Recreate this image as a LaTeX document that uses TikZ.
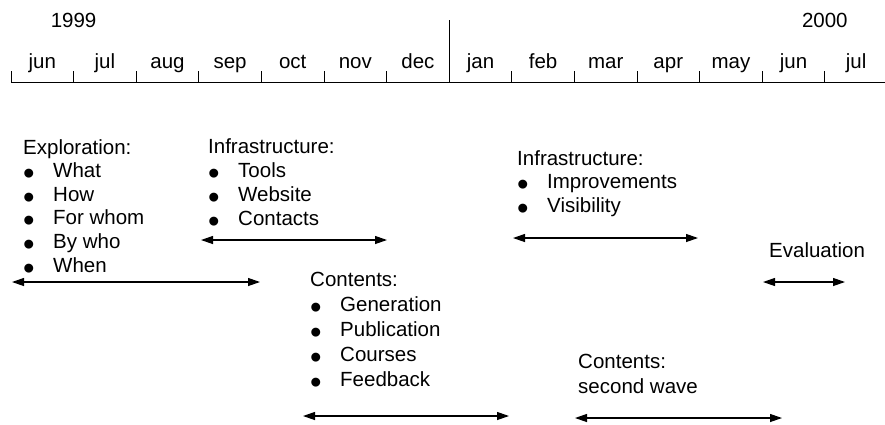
\documentclass[tikz,border=0pt]{standalone}
\usepackage{fontspec}
\setmainfont{Liberation Sans}
\usetikzlibrary{arrows.meta, calc, positioning}

\newcommand{\bul}{\makebox[30pt][l]{\smash{\raisebox{-7pt}{\scalebox{1.6}{\textbullet}}}}}

\begin{document}
\begin{tikzpicture}[
    x=1pt, y=-1pt,
    font=\fontsize{20.5}{24}\selectfont,
    >={Triangle[length=12pt, width=8pt]}
]
    \useasboundingbox (0,0) rectangle (885,424);

    % Styles
    \tikzstyle{month} = [anchor=base, inner sep=0pt]
    \tikzstyle{phase} = [anchor=base west, inner sep=0pt]
    \tikzstyle{span} = [<->, line width=1.2pt]
    \tikzstyle{axis} = [line width=0.8pt]

    % Time axis
    \coordinate (axis_start) at (11,82);
    \coordinate (axis_end) at (885,82);
    \draw [axis] (axis_start) -- (axis_end);
    \foreach \m [count=\i from 0] in {jun,jul,aug,sep,oct,nov,dec,jan,feb,mar,apr,may,jun,jul} {
        \coordinate (tick\i) at ($(axis_start) + ({62.6*\i},0)$);
        \node [month] (month\i) at ($(tick\i) + (31.3,-14)$) {\m};
    }
    \foreach \i in {0,...,6,8,9,...,13}
        \draw [axis] (tick\i) -- ++(0,-11);
    % year change
    \draw [axis] (tick7) -- ++(0,-62);
    \node [month] (y1999) at ($(tick1) + (0,-55)$) {1999};
    \node [month] (y2000) at ($(tick13) + (0,-55)$) {2000};

    % Exploration
    \node [phase] (expl) at (23,154) {Exploration:};
    \foreach \t [count=\i] in {What, How, For whom, By who, When}
        \node [phase] (expl\i) at ($(expl.base west) + (0,{23.6*\i})$) {\bul\t};
    \coordinate (expl_from) at (12,282);
    \coordinate (expl_to) at (260,282);
    \draw [span] (expl_from) -- (expl_to);

    % Infrastructure (first)
    \node [phase] (infra) at (208,153) {Infrastructure:};
    \foreach \t [count=\i] in {Tools, Website, Contacts}
        \node [phase] (infra\i) at ($(infra.base west) + (0,{24*\i})$) {\bul\t};
    \coordinate (infra_from) at (201,240);
    \coordinate (infra_to) at (387,240);
    \draw [span] (infra_from) -- (infra_to);

    % Contents (first)
    \node [phase] (cont) at (310,286) {Contents:};
    \foreach \t [count=\i] in {Generation, Publication, Courses, Feedback}
        \node [phase] (cont\i) at ($(cont.base west) + (0,{25*\i})$) {\bul\t};
    \coordinate (cont_from) at (303,416);
    \coordinate (cont_to) at (509,416);
    \draw [span] (cont_from) -- (cont_to);

    % Infrastructure (second)
    \node [phase] (infrb) at (517,165) {Infrastructure:};
    \foreach \t [count=\i] in {Improvements, Visibility}
        \node [phase] (infrb\i) at ($(infrb.base west) + (0,{23.5*\i})$) {\bul\t};
    \coordinate (infrb_from) at (513,238);
    \coordinate (infrb_to) at (698,238);
    \draw [span] (infrb_from) -- (infrb_to);

    % Contents (second wave)
    \node [phase] (contb) at (578,368) {Contents:};
    \node [phase] (contb1) at ($(contb.base west) + (0,25)$) {second wave};
    \coordinate (contb_from) at (575,418);
    \coordinate (contb_to) at (782,418);
    \draw [span] (contb_from) -- (contb_to);

    % Evaluation
    \node [phase] (eval) at (769,257) {Evaluation};
    \coordinate (eval_from) at (763,282);
    \coordinate (eval_to) at (845,282);
    \draw [span] (eval_from) -- (eval_to);

\end{tikzpicture}
\end{document}
